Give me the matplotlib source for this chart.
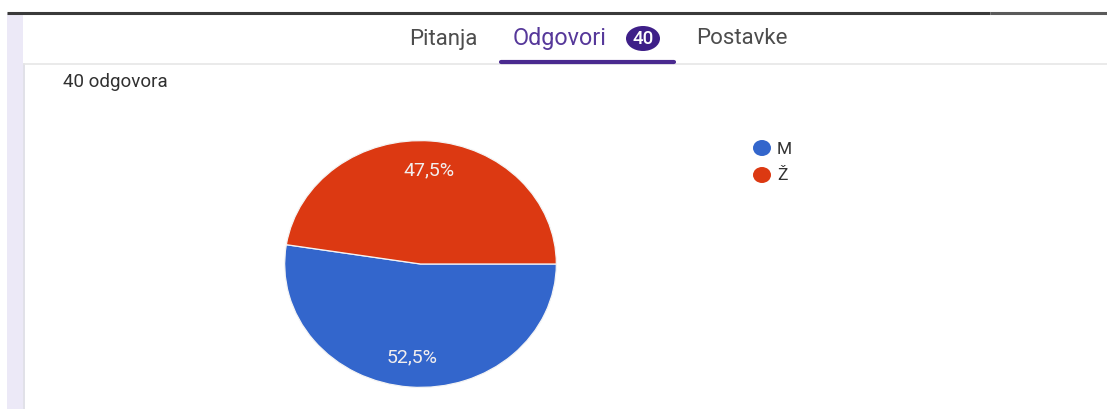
import matplotlib
matplotlib.use('Agg')
import matplotlib.pyplot as plt
from matplotlib.patches import Rectangle, Ellipse

plt.rcParams['font.family'] = ['Roboto', 'DejaVu Sans']

# answers
labels = ['M', 'Ž']
counts = [21, 19]
total = sum(counts)
colors = ['#3366cc', '#dc3912']

tabs = ['Pitanja', 'Odgovori', 'Postavke']

W, H = 1107, 409
fig = plt.figure(figsize=(W / 100, H / 100), dpi=100)
fig.patch.set_facecolor('white')

# page chrome drawn in pixel coordinates
bg = fig.add_axes([0, 0, 1, 1])
bg.set_xlim(0, W)
bg.set_ylim(H, 0)
bg.axis('off')

bg.add_patch(Rectangle((7, 13), 16, H - 13, facecolor='#ece9f7', edgecolor='none'))
bg.plot([23.5, 23.5], [64, H], color='#dcdce4', lw=1.2)
bg.plot([7, 990], [13, 13], color='#3a3a3a', lw=2.2, solid_capstyle='butt')
bg.plot([990, W], [13, 13], color='#5a5a5a', lw=2.2, solid_capstyle='butt')
bg.plot([24, W], [64, 64], color='#e6e6e6', lw=1.2)

tab_font = dict(va='center', ha='left')
bg.text(409, 39, tabs[0], fontsize=16, color='#4d4d4d', **tab_font)
bg.text(513, 39, tabs[1], fontsize=16.8, color='#56389a', **tab_font)
bg.text(696, 39, tabs[2], fontsize=16, color='#4d4d4d', **tab_font)
bg.add_patch(Ellipse((643, 38.5), 34, 25, facecolor='#3e1f88', edgecolor='none'))
bg.text(643, 39.5, str(total), fontsize=13.5, fontweight='medium', color='white',
        va='center', ha='center')
bg.plot([501, 674], [62, 62], color='#4a2a8f', lw=3, solid_capstyle='round')

bg.text(63, 82, f'{total} odgovora', fontsize=13.5,
        color='#303030', va='center', ha='left')

# legend
for i, (lab, col) in enumerate(zip(labels, colors)):
    y = 148 + i * 27
    bg.add_patch(Ellipse((762, y), 18, 16, facecolor=col, edgecolor='none'))
    bg.text(777, y + 1, lab, fontsize=12.5, color='#333333', va='center', ha='left')

# pie
ax = fig.add_axes([284 / W, (H - 388) / H, 273 / W, 248 / H])


def pct_fmt(p):
    return f'{p:.1f}%'.replace('.', ',')


wedges, texts, autotexts = ax.pie(
    counts, colors=colors, startangle=0, counterclock=False,
    autopct=pct_fmt, pctdistance=0.76,
    wedgeprops=dict(edgecolor='#f4f4f4', linewidth=0.9),
    textprops=dict(color='#f2eeee', fontsize=14))
ax.set_aspect('auto')
ax.set_xlim(-1.005, 1.005)
ax.set_ylim(-1.005, 1.005)
ax.axis('off')

fig.savefig('out.png', dpi=100, facecolor='white')
